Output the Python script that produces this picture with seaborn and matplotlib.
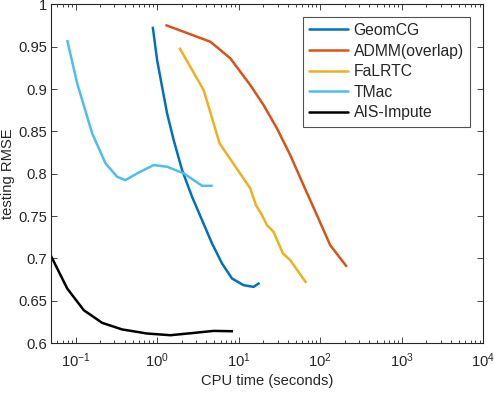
import numpy as np
import pandas as pd
import matplotlib
matplotlib.use("Agg")
import matplotlib.pyplot as plt
import seaborn as sns
from matplotlib.ticker import LogLocator, NullFormatter, FixedLocator

# ---- data ----
geom_x = [0.884, 1.0, 1.151, 1.326, 1.597, 2.024, 2.684, 3.557, 4.716, 6.252, 8.288, 11.50, 15.25, 18.06]
geom_y = [0.9736, 0.9343, 0.9027, 0.8713, 0.8397, 0.8043, 0.7727, 0.7452, 0.7176, 0.6940, 0.6762, 0.6683, 0.6663, 0.6710]

admm_x = [1.264, 4.50, 7.90, 13.89, 20.2, 29.5, 42.9, 62.4, 91.1, 132.6, 212]
admm_y = [0.9757, 0.9559, 0.9363, 0.9047, 0.8811, 0.8535, 0.8220, 0.7865, 0.7511, 0.7156, 0.690]

falrtc_x = [1.876, 3.72, 5.84, 13.89, 16.3, 19.3, 22.2, 26.8, 34.9, 42.9, 67.4]
falrtc_y = [0.9488, 0.8988, 0.8358, 0.7826, 0.7629, 0.7511, 0.7393, 0.7313, 0.7058, 0.6979, 0.671]

tmac_x = [0.0790, 0.1047, 0.160, 0.233, 0.324, 0.409, 0.569, 0.909, 1.326, 2.12, 2.81, 3.56, 4.80]
tmac_y = [0.9579, 0.9067, 0.8476, 0.8122, 0.7963, 0.7924, 0.8004, 0.8102, 0.8082, 0.8004, 0.7924, 0.7857, 0.7857]

ais_x = [0.0494, 0.0790, 0.126, 0.212, 0.373, 0.754, 1.455, 2.81, 4.93, 8.53]
ais_y = [0.7038, 0.6644, 0.6388, 0.6238, 0.6160, 0.6112, 0.6092, 0.6119, 0.6143, 0.6139]

methods = ["GeomCG", "ADMM(overlap)", "FaLRTC", "TMac", "AIS-Impute"]
colors = ["#0072BD", "#D95319", "#EDB120", "#4DBEEE", "#000000"]
xticks = [1e-1, 1e0, 1e1, 1e2, 1e3, 1e4]
yticks = [0.6, 0.65, 0.7, 0.75, 0.8, 0.85, 0.9, 0.95, 1.0]
ytick_labels = ["0.6", "0.65", "0.7", "0.75", "0.8", "0.85", "0.9", "0.95", "1"]

series = [(geom_x, geom_y), (admm_x, admm_y), (falrtc_x, falrtc_y),
          (tmac_x, tmac_y), (ais_x, ais_y)]
frames = []
for name, (xs, ys) in zip(methods, series):
    frames.append(pd.DataFrame({"time": xs, "rmse": ys, "method": name}))
df = pd.concat(frames, ignore_index=True)

# ---- style ----
sns.set_style("white")
plt.rcParams["font.family"] = ["Liberation Sans", "DejaVu Sans"]
FS = 10.6
LFS = 11.3

fig = plt.figure(figsize=(4.94, 3.93), dpi=100)
ax = fig.add_axes([51 / 494, 1 - 343 / 393, (483.3 - 51) / 494, (343 - 4.4) / 393])

sns.lineplot(data=df, x="time", y="rmse", hue="method", hue_order=methods,
             palette=dict(zip(methods, colors)), sort=False, estimator=None,
             linewidth=1.8, ax=ax, legend=False)
for ln in ax.get_lines():
    ln.set_solid_joinstyle("round")
    ln.set_solid_capstyle("butt")

ax.set_xscale("log")
ax.set_xlim(0.05, 1e4)
ax.set_ylim(0.6, 1.0)
ax.xaxis.set_major_locator(FixedLocator(xticks))
ax.xaxis.set_minor_locator(LogLocator(base=10, subs=np.arange(2, 10), numticks=20))
ax.xaxis.set_minor_formatter(NullFormatter())
ax.set_yticks(yticks)
ax.set_yticklabels(ytick_labels)

for s in ax.spines.values():
    s.set_visible(True)
    s.set_color("#262626")
    s.set_linewidth(0.8)
ax.tick_params(which="both", direction="in", top=True, right=True,
               bottom=True, left=True,
               color="#262626", labelcolor="#262626", labelsize=FS)
ax.tick_params(which="major", length=4.5, width=0.6)
ax.tick_params(which="minor", length=2.5, width=0.6)
ax.tick_params(axis="x", pad=6)
ax.tick_params(axis="y", pad=3)

ax.set_xlabel("CPU time (seconds)", fontsize=FS, color="#262626", labelpad=3)
ax.set_ylabel("testing RMSE", fontsize=FS, color="#262626", labelpad=2)

handles = [plt.Line2D([], [], color=c, lw=1.8) for c in colors]
leg = ax.legend(handles, methods, loc="upper right", bbox_to_anchor=(0.969, 0.964),
                frameon=True, fancybox=False, edgecolor="#262626",
                fontsize=LFS, handlelength=2.45, handletextpad=0.36,
                labelspacing=0.36, borderpad=0.4, borderaxespad=0.0)
leg.get_frame().set_linewidth(0.8)

fig.savefig("out.png", dpi=100)
